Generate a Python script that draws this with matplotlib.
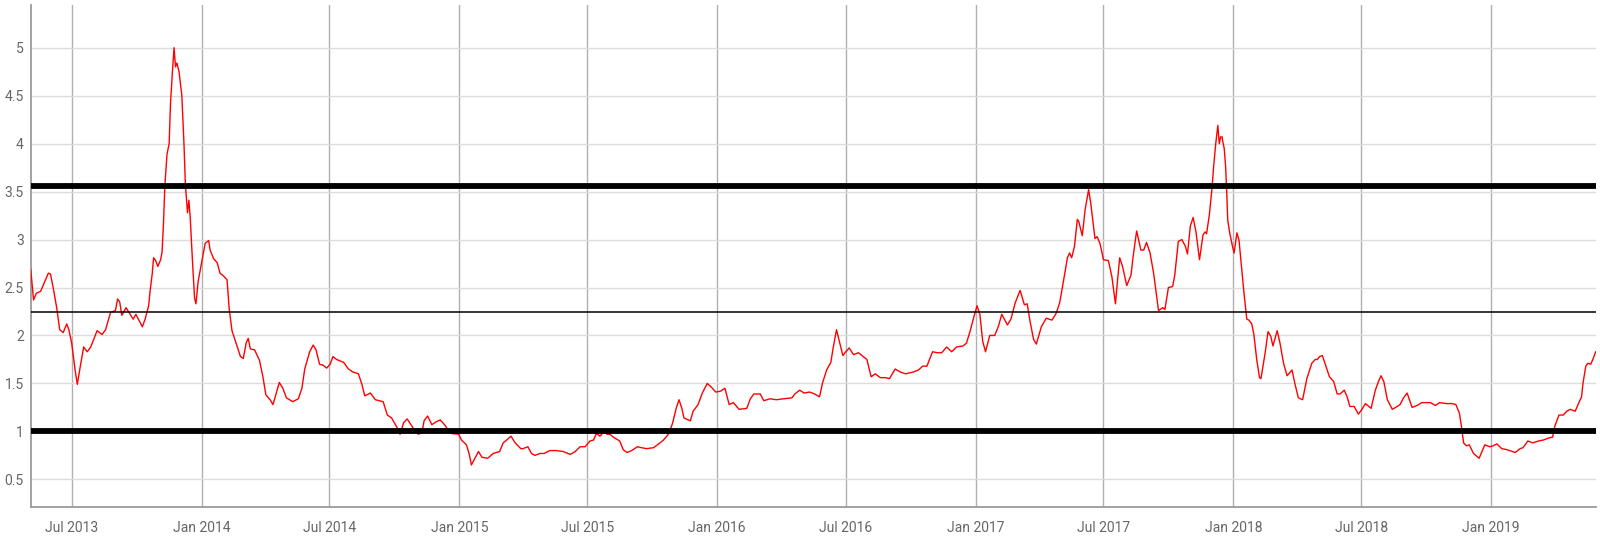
import matplotlib
matplotlib.use("Agg")
import matplotlib.pyplot as plt
import matplotlib.dates as mdates
import numpy as np
import pandas as pd

plt.rcParams['font.family'] = ['Roboto', 'DejaVu Sans']

# ---- data ----
dates = [
    "2013-05-04", "2013-05-08", "2013-05-12", "2013-05-18", "2013-05-22", "2013-05-29",
    "2013-06-01", "2013-06-05", "2013-06-10", "2013-06-14", "2013-06-19", "2013-06-24",
    "2013-06-27", "2013-07-01", "2013-07-06", "2013-07-09", "2013-07-13", "2013-07-18",
    "2013-07-23", "2013-07-28", "2013-08-06", "2013-08-13", "2013-08-18", "2013-08-25",
    "2013-09-01", "2013-09-04", "2013-09-07", "2013-09-10", "2013-09-16", "2013-09-26",
    "2013-09-30", "2013-10-09", "2013-10-13", "2013-10-18", "2013-10-20", "2013-10-23",
    "2013-10-25", "2013-10-28", "2013-10-31", "2013-11-04", "2013-11-06", "2013-11-08",
    "2013-11-10", "2013-11-13", "2013-11-16", "2013-11-18", "2013-11-21", "2013-11-23",
    "2013-11-25", "2013-11-27", "2013-11-30", "2013-12-02", "2013-12-04", "2013-12-07",
    "2013-12-09", "2013-12-12", "2013-12-14", "2013-12-16", "2013-12-19", "2013-12-22",
    "2013-12-24", "2013-12-27", "2014-01-01", "2014-01-06", "2014-01-11", "2014-01-13",
    "2014-01-18", "2014-01-23", "2014-01-27", "2014-02-01", "2014-02-06", "2014-02-09",
    "2014-02-13", "2014-02-17", "2014-02-22", "2014-02-25", "2014-03-01", "2014-03-05",
    "2014-03-08", "2014-03-11", "2014-03-17", "2014-03-24", "2014-03-29", "2014-04-02",
    "2014-04-08", "2014-04-12", "2014-04-16", "2014-04-21", "2014-04-26", "2014-05-01",
    "2014-05-10", "2014-05-18", "2014-05-23", "2014-05-27", "2014-06-03", "2014-06-08",
    "2014-06-12", "2014-06-17", "2014-06-22", "2014-06-27", "2014-07-02", "2014-07-06",
    "2014-07-11", "2014-07-21", "2014-07-28", "2014-08-03", "2014-08-11", "2014-08-16",
    "2014-08-20", "2014-08-28", "2014-09-04", "2014-09-15", "2014-09-21", "2014-09-27",
    "2014-10-04", "2014-10-09", "2014-10-14", "2014-10-19", "2014-10-28", "2014-11-04",
    "2014-11-09", "2014-11-12", "2014-11-17", "2014-11-23", "2014-11-29", "2014-12-05",
    "2014-12-12", "2014-12-19", "2014-12-31", "2015-01-04", "2015-01-11", "2015-01-15",
    "2015-01-18", "2015-01-23", "2015-01-28", "2015-02-02", "2015-02-10", "2015-02-18",
    "2015-02-27", "2015-03-04", "2015-03-09", "2015-03-15", "2015-03-21", "2015-03-29",
    "2015-04-01", "2015-04-08", "2015-04-13", "2015-04-18", "2015-04-25", "2015-05-01",
    "2015-05-09", "2015-05-18", "2015-05-28", "2015-06-07", "2015-06-14", "2015-06-21",
    "2015-06-28", "2015-07-05", "2015-07-10", "2015-07-14", "2015-07-19", "2015-07-25",
    "2015-07-29", "2015-08-02", "2015-08-07", "2015-08-16", "2015-08-21", "2015-08-26",
    "2015-09-02", "2015-09-10", "2015-09-16", "2015-09-23", "2015-10-03", "2015-10-12",
    "2015-10-17", "2015-10-25", "2015-10-30", "2015-11-04", "2015-11-08", "2015-11-12",
    "2015-11-15", "2015-11-24", "2015-11-28", "2015-12-05", "2015-12-11", "2015-12-18",
    "2015-12-24", "2015-12-30", "2016-01-06", "2016-01-12", "2016-01-18", "2016-01-24",
    "2016-02-01", "2016-02-12", "2016-02-17", "2016-02-22", "2016-03-02", "2016-03-07",
    "2016-03-16", "2016-03-25", "2016-04-04", "2016-04-16", "2016-04-20", "2016-04-27",
    "2016-05-03", "2016-05-11", "2016-05-18", "2016-05-25", "2016-05-29", "2016-06-04",
    "2016-06-10", "2016-06-13", "2016-06-18", "2016-06-22", "2016-06-27", "2016-06-30",
    "2016-07-06", "2016-07-12", "2016-07-19", "2016-07-26", "2016-07-31", "2016-08-06",
    "2016-08-12", "2016-08-19", "2016-08-26", "2016-09-01", "2016-09-09", "2016-09-16",
    "2016-09-24", "2016-10-05", "2016-10-12", "2016-10-18", "2016-10-24", "2016-11-01",
    "2016-11-08", "2016-11-14", "2016-11-21", "2016-11-28", "2016-12-05", "2016-12-14",
    "2016-12-19", "2016-12-24", "2016-12-29", "2017-01-03", "2017-01-07", "2017-01-11",
    "2017-01-15", "2017-01-21", "2017-01-28", "2017-02-02", "2017-02-07", "2017-02-15",
    "2017-02-20", "2017-02-26", "2017-03-05", "2017-03-11", "2017-03-15", "2017-03-19",
    "2017-03-24", "2017-03-28", "2017-04-04", "2017-04-11", "2017-04-19", "2017-04-25",
    "2017-04-30", "2017-05-05", "2017-05-11", "2017-05-14", "2017-05-17", "2017-05-21",
    "2017-05-25", "2017-05-27", "2017-06-01", "2017-06-05", "2017-06-10", "2017-06-13",
    "2017-06-19", "2017-06-22", "2017-06-26", "2017-07-01", "2017-07-08", "2017-07-13",
    "2017-07-18", "2017-07-21", "2017-07-24", "2017-07-28", "2017-08-03", "2017-08-09",
    "2017-08-12", "2017-08-17", "2017-08-23", "2017-08-27", "2017-08-31", "2017-09-05",
    "2017-09-10", "2017-09-17", "2017-09-23", "2017-09-26", "2017-10-01", "2017-10-07",
    "2017-10-10", "2017-10-15", "2017-10-20", "2017-10-25", "2017-10-28", "2017-11-01",
    "2017-11-05", "2017-11-09", "2017-11-14", "2017-11-19", "2017-11-22", "2017-11-24",
    "2017-11-28", "2017-12-01", "2017-12-02", "2017-12-04", "2017-12-07", "2017-12-10",
    "2017-12-12", "2017-12-14", "2017-12-16", "2017-12-17", "2017-12-19", "2017-12-21",
    "2017-12-23", "2017-12-24", "2017-12-27", "2017-12-31", "2018-01-02", "2018-01-06",
    "2018-01-09", "2018-01-13", "2018-01-16", "2018-01-20", "2018-01-23", "2018-01-27",
    "2018-01-30", "2018-02-03", "2018-02-07", "2018-02-09", "2018-02-15", "2018-02-19",
    "2018-02-23", "2018-02-26", "2018-03-04", "2018-03-08", "2018-03-13", "2018-03-18",
    "2018-03-25", "2018-03-29", "2018-04-03", "2018-04-09", "2018-04-15", "2018-04-22",
    "2018-04-27", "2018-04-30", "2018-05-03", "2018-05-07", "2018-05-12", "2018-05-17",
    "2018-05-23", "2018-05-28", "2018-06-01", "2018-06-07", "2018-06-11", "2018-06-15",
    "2018-06-21", "2018-06-27", "2018-07-02", "2018-07-07", "2018-07-15", "2018-07-21",
    "2018-07-26", "2018-07-29", "2018-08-02", "2018-08-07", "2018-08-14", "2018-08-21",
    "2018-08-25", "2018-08-30", "2018-09-04", "2018-09-11", "2018-09-18", "2018-09-25",
    "2018-10-07", "2018-10-14", "2018-10-20", "2018-10-30", "2018-11-06", "2018-11-12",
    "2018-11-17", "2018-11-20", "2018-11-23", "2018-11-27", "2018-12-01", "2018-12-07",
    "2018-12-15", "2018-12-19", "2018-12-23", "2018-12-30", "2019-01-04", "2019-01-09",
    "2019-01-16", "2019-01-23", "2019-02-04", "2019-02-11", "2019-02-15", "2019-02-22",
    "2019-03-01", "2019-03-09", "2019-03-16", "2019-03-23", "2019-03-29", "2019-04-01",
    "2019-04-07", "2019-04-13", "2019-04-18", "2019-04-23", "2019-04-30", "2019-05-04",
    "2019-05-09", "2019-05-11", "2019-05-15", "2019-05-18", "2019-05-22", "2019-05-25",
    "2019-05-29",
]

values = [
    2.69, 2.37, 2.44, 2.46, 2.53, 2.65,
    2.64, 2.49, 2.28, 2.06, 2.03, 2.12,
    2.06, 1.92, 1.63, 1.49, 1.67, 1.88,
    1.83, 1.88, 2.05, 2.01, 2.06, 2.24,
    2.26, 2.38, 2.35, 2.21, 2.29, 2.17,
    2.22, 2.09, 2.17, 2.31, 2.46, 2.64,
    2.81, 2.78, 2.72, 2.79, 2.87, 3.17,
    3.57, 3.89, 4.00, 4.43, 4.79, 5.00,
    4.80, 4.84, 4.75, 4.62, 4.50, 4.00,
    3.57, 3.28, 3.41, 3.21, 2.78, 2.39,
    2.33, 2.56, 2.76, 2.96, 2.99, 2.89,
    2.80, 2.76, 2.65, 2.62, 2.58, 2.28,
    2.05, 1.96, 1.85, 1.78, 1.76, 1.92,
    1.97, 1.86, 1.85, 1.74, 1.56, 1.38,
    1.33, 1.28, 1.38, 1.51, 1.45, 1.35,
    1.31, 1.34, 1.45, 1.65, 1.83, 1.90,
    1.85, 1.70, 1.69, 1.66, 1.70, 1.78,
    1.75, 1.72, 1.65, 1.62, 1.60, 1.49,
    1.37, 1.40, 1.33, 1.31, 1.17, 1.14,
    1.05, 0.97, 1.09, 1.13, 1.03, 0.97,
    0.99, 1.11, 1.16, 1.07, 1.10, 1.12,
    1.06, 0.98, 0.97, 0.91, 0.86, 0.76,
    0.65, 0.72, 0.79, 0.73, 0.72, 0.77,
    0.79, 0.88, 0.91, 0.95, 0.88, 0.82,
    0.82, 0.84, 0.77, 0.75, 0.77, 0.77,
    0.80, 0.80, 0.79, 0.76, 0.79, 0.84,
    0.84, 0.90, 0.91, 0.98, 0.95, 1.00,
    0.97, 0.97, 0.94, 0.90, 0.81, 0.78,
    0.80, 0.84, 0.83, 0.82, 0.83, 0.88,
    0.91, 0.98, 1.09, 1.24, 1.33, 1.24,
    1.14, 1.11, 1.21, 1.28, 1.40, 1.50,
    1.46, 1.41, 1.42, 1.45, 1.28, 1.30,
    1.23, 1.24, 1.34, 1.39, 1.39, 1.32,
    1.34, 1.33, 1.34, 1.35, 1.39, 1.43,
    1.40, 1.41, 1.39, 1.36, 1.50, 1.64,
    1.72, 1.86, 2.06, 1.94, 1.79, 1.82,
    1.87, 1.80, 1.82, 1.78, 1.75, 1.57,
    1.60, 1.56, 1.56, 1.55, 1.65, 1.62,
    1.60, 1.62, 1.64, 1.68, 1.68, 1.83,
    1.82, 1.82, 1.88, 1.83, 1.88, 1.89,
    1.92, 2.04, 2.18, 2.31, 2.22, 1.94,
    1.83, 2.00, 2.00, 2.09, 2.22, 2.11,
    2.17, 2.34, 2.47, 2.32, 2.33, 2.15,
    1.96, 1.91, 2.09, 2.18, 2.16, 2.23,
    2.34, 2.55, 2.81, 2.86, 2.81, 2.93,
    3.21, 3.19, 3.04, 3.31, 3.52, 3.38,
    3.01, 3.03, 2.96, 2.79, 2.78, 2.61,
    2.33, 2.58, 2.81, 2.72, 2.52, 2.63,
    2.82, 3.09, 2.89, 2.89, 2.97, 2.86,
    2.65, 2.26, 2.29, 2.27, 2.50, 2.51,
    2.63, 2.98, 3.00, 2.93, 2.85, 3.14,
    3.23, 3.08, 2.79, 3.05, 3.08, 3.06,
    3.26, 3.48, 3.56, 3.76, 4.00, 4.19,
    4.00, 4.07, 4.07, 4.02, 3.95, 3.76,
    3.41, 3.20, 3.06, 2.92, 2.86, 3.07,
    2.99, 2.68, 2.44, 2.17, 2.16, 2.12,
    2.01, 1.75, 1.56, 1.55, 1.82, 2.04,
    1.99, 1.89, 2.05, 1.92, 1.71, 1.58,
    1.64, 1.50, 1.35, 1.33, 1.55, 1.71,
    1.75, 1.75, 1.78, 1.79, 1.68, 1.57,
    1.52, 1.39, 1.39, 1.43, 1.36, 1.26,
    1.26, 1.18, 1.23, 1.29, 1.24, 1.43,
    1.53, 1.58, 1.52, 1.33, 1.23, 1.26,
    1.28, 1.35, 1.40, 1.25, 1.27, 1.30,
    1.30, 1.27, 1.30, 1.29, 1.29, 1.28,
    1.19, 1.05, 0.88, 0.85, 0.86, 0.77,
    0.72, 0.79, 0.86, 0.84, 0.85, 0.87,
    0.82, 0.81, 0.78, 0.82, 0.83, 0.90,
    0.88, 0.90, 0.91, 0.93, 0.94, 1.05,
    1.17, 1.17, 1.21, 1.23, 1.21, 1.28,
    1.36, 1.50, 1.68, 1.71, 1.70, 1.75,
    1.83,
]

# reference levels
upper_level = 3.56
mid_level = 2.245
lower_level = 1.0

y_ticks = [0.5, 1, 1.5, 2, 2.5, 3, 3.5, 4, 4.5, 5]
y_tick_labels = ["0.5", "1", "1.5", "2", "2.5", "3", "3.5", "4", "4.5", "5"]
x_ticks = ["2013-07-01", "2014-01-01", "2014-07-01", "2015-01-01", "2015-07-01",
           "2016-01-01", "2016-07-01", "2017-01-01", "2017-07-01", "2018-01-01",
           "2018-07-01", "2019-01-01"]

# ---- plot ----
x = pd.to_datetime(dates)
fig = plt.figure(figsize=(16, 5.38), dpi=100)
ax = fig.add_axes([0.0192, 0.0582, 0.9781, 0.9325])

ax.plot(x, values, color="#ff0000", linewidth=1.0, zorder=3)

ax.axhline(upper_level, color="black", linewidth=4.2, zorder=4, solid_capstyle="butt")
ax.axhline(lower_level, color="black", linewidth=4.2, zorder=4, solid_capstyle="butt")
ax.axhline(mid_level, color="black", linewidth=1.1, zorder=4)

ax.set_xlim(x[0], x[-1])
ax.set_ylim(0.215, 5.445)

ax.set_yticks(y_ticks)
ax.set_yticklabels(y_tick_labels)
xt = pd.to_datetime(x_ticks)
ax.set_xticks(xt)
ax.set_xticklabels([d.strftime("%b %Y") for d in xt])

ax.grid(axis="y", color="#dcdcdc", linewidth=1.0, zorder=0)
ax.grid(axis="x", color="#b0b0b0", linewidth=1.0, zorder=0)
ax.set_axisbelow(True)

for s in ["top", "right"]:
    ax.spines[s].set_visible(False)
for s in ["left", "bottom"]:
    ax.spines[s].set_color("#9a9a9a")
    ax.spines[s].set_linewidth(1.3)

ax.tick_params(axis="both", length=0, labelsize=10, labelcolor="#666666")
ax.tick_params(axis="x", pad=10)
ax.tick_params(axis="y", pad=5)

fig.savefig("out.png", dpi=100)
